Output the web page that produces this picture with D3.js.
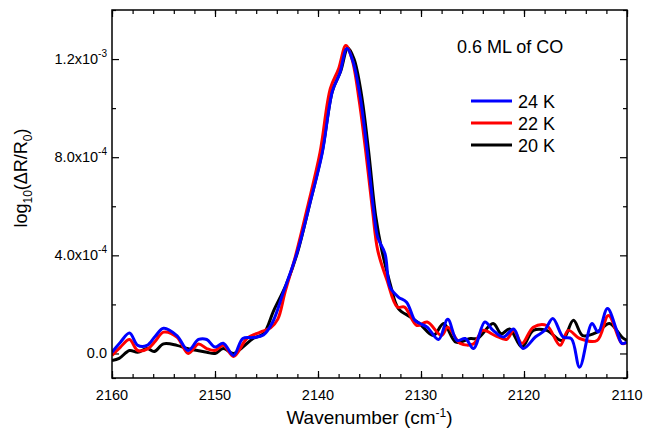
<!DOCTYPE html>
<html>
<head>
<meta charset="utf-8">
<script src="https://cdn.jsdelivr.net/npm/d3@7"></script>
<style>
  body { margin: 0; background: #fff; }
  svg text { font-family: "Liberation Sans", Arial, sans-serif; fill: #000; }
  .axis path { stroke: none; }
  .axis line { stroke: #000; stroke-width: 1.2; }
</style>
</head>
<body>
<script>
const width = 646;
const height = 435;
const margin = {top: 10, right: 19, bottom: 57, left: 112};

// values are in units of 1e-4
const unit = 1e-4;

const k24 = [
  [2160, 0.05], [2159.2, 0.45], [2158.3, 0.83], [2157.5, 0.33], [2156.6, 0.33], [2155.8, 0.7],
  [2155, 1.03], [2153.7, 0.73], [2152.6, 0.12], [2151.6, 0.57], [2150.8, 0.57], [2150, 0.26],
  [2149.2, 0.42], [2148.2, -0.08], [2147.3, 0.61], [2146.3, 0.65], [2145.3, 0.75], [2144.4, 1.28],
  [2143.4, 2.45], [2142, 4.15], [2140.8, 6.1], [2139.6, 8.15], [2138.6, 10.7], [2137.9, 11.4],
  [2137.2, 12.43], [2136.6, 11.9], [2135.9, 10.45], [2135.2, 8.15], [2134.6, 5.83], [2134.2, 4.73],
  [2133.5, 4.08], [2133, 2.7], [2132.2, 2.3], [2131.4, 2.09], [2130.6, 1.35], [2130.1, 1.22],
  [2129.4, 1.07], [2128.3, 0.57], [2127.4, 1.39], [2126.5, 0.53], [2125.7, 0.61], [2124.9, 0.2],
  [2123.8, 1.28], [2123, 0.94], [2122, 0.67], [2121, 1.0], [2120.1, 0.2], [2118.9, 0.67],
  [2118, 0.94], [2117.2, 1.43], [2116.2, 0.67], [2115.4, 0.6], [2114.6, -0.56], [2113.4, 1.22],
  [2112.8, 0.87], [2111.9, 1.83], [2111, 0.94], [2110.5, 0.41], [2110, 0.46]
];

const k22 = [
  [2160, -0.08], [2159.2, 0.25], [2158.3, 0.57], [2157.5, 0.12], [2156.5, 0.2], [2155.8, 0.5],
  [2155, 0.87], [2153.7, 0.67], [2152.6, 0.0], [2151.6, 0.39], [2150.8, 0.2], [2150, 0.12],
  [2149.2, 0.33], [2148.2, -0.12], [2146.9, 0.61], [2145.6, 0.87], [2144.6, 1.05], [2143.9, 1.4],
  [2143.2, 2.5], [2142.2, 3.95], [2141, 6.0], [2139.8, 8.2], [2138.8, 10.8], [2138, 11.6],
  [2137.3, 12.55], [2136.7, 12.0], [2136, 10.3], [2135.3, 8.0], [2134.7, 5.8], [2134.2, 4.2],
  [2133.3, 2.98], [2132.3, 1.89], [2131.6, 1.89], [2130.4, 1.14], [2129.4, 1.28], [2128, 0.73],
  [2127.4, 1.07], [2126.2, 0.41], [2124.9, 0.39], [2124, 0.94], [2122.8, 0.73], [2121.7, 0.57],
  [2121, 0.94], [2120.2, 0.41], [2119.1, 1.07], [2117.8, 1.14], [2116.5, 0.33], [2115.7, 0.94],
  [2114.6, 0.61], [2112.9, 0.53], [2111.8, 1.55], [2110.5, 0.41], [2110, 0.46]
];

const k20 = [
  [2160, -0.29], [2159.3, -0.2], [2158.3, 0.12], [2157.5, 0.05], [2156.6, 0.2], [2155.9, 0.08],
  [2155, 0.39], [2153.7, 0.33], [2152.7, 0.2], [2151.7, 0.12], [2150.8, 0.05], [2150, 0.0],
  [2149.2, 0.2], [2148.2, 0.0], [2147.3, 0.26], [2146.3, 0.61], [2145.3, 0.8], [2144.3, 1.75],
  [2143.1, 2.8], [2142, 4.1], [2140.8, 6.1], [2139.6, 8.2], [2138.6, 10.7], [2137.8, 11.5],
  [2137.1, 12.45], [2136.5, 12.0], [2135.8, 10.6], [2135.1, 8.3], [2134.4, 5.6], [2133.8, 4.2],
  [2133, 2.85], [2132.2, 1.83], [2131, 1.48], [2130.1, 1.2], [2128.8, 0.73], [2127.8, 1.22],
  [2126.6, 0.46], [2125.2, 0.61], [2124.5, 0.61], [2123, 1.22], [2122.2, 0.8], [2121.4, 1.0],
  [2120.2, 0.26], [2119.1, 0.94], [2117.8, 0.94], [2116.3, 0.53], [2115.2, 1.35], [2114.3, 0.73],
  [2112.9, 0.87], [2111.7, 1.22], [2110.5, 0.67], [2110, 0.53]
];

const seriesNames = ["20 K", "22 K", "24 K"];
const seriesColors = ["#000000", "#ff0000", "#0000ff"];
const seriesData = [k20, k22, k24];
const legendOrder = [2, 1, 0]; // 24 K on top

const xTicks = [2160, 2150, 2140, 2130, 2120, 2110];
const xMinorTicks = d3.range(2160, 2109, -2);
const yTicks = [0, 4e-4, 8e-4, 1.2e-3];
const yMinorTicks = [-1e-4, 2e-4, 6e-4, 1.0e-3, 1.4e-3];
const yTickLabels = [["0.0", null], ["4.0x10", "-4"], ["8.0x10", "-4"], ["1.2x10", "-3"]];

const svg = d3.select("body").append("svg")
    .attr("width", width)
    .attr("height", height);

const x = d3.scaleLinear().domain([2160, 2110]).range([margin.left, width - margin.right]);
const y = d3.scaleLinear().domain([-1e-4, 1.4e-3]).range([height - margin.bottom, margin.top]);

const plotW = width - margin.right - margin.left;
const plotH = height - margin.bottom - margin.top;

// inward ticks on all four sides
function ticks(axisFn, scale, vals, size, tx, ty) {
    svg.append("g")
        .attr("class", "axis")
        .attr("transform", `translate(${tx},${ty})`)
        .call(axisFn(scale).tickValues(vals).tickSize(-size).tickFormat(""));
}
ticks(d3.axisBottom, x, xTicks, 7, 0, height - margin.bottom);
ticks(d3.axisBottom, x, xMinorTicks, 4, 0, height - margin.bottom);
ticks(d3.axisTop, x, xTicks, 7, 0, margin.top);
ticks(d3.axisTop, x, xMinorTicks, 4, 0, margin.top);
ticks(d3.axisLeft, y, yTicks, 7, margin.left, 0);
ticks(d3.axisLeft, y, yMinorTicks, 4, margin.left, 0);
ticks(d3.axisRight, y, yTicks, 7, width - margin.right, 0);
ticks(d3.axisRight, y, yMinorTicks, 4, width - margin.right, 0);

// curves
svg.append("clipPath").attr("id", "clip")
    .append("rect").attr("x", margin.left).attr("y", margin.top)
    .attr("width", plotW).attr("height", plotH);

const line = d3.line()
    .x(d => x(d[0]))
    .y(d => y(d[1] * unit))
    .curve(d3.curveCatmullRom.alpha(0.5));

svg.append("g").attr("clip-path", "url(#clip)")
    .selectAll("path")
    .data(seriesData)
    .join("path")
    .attr("fill", "none")
    .attr("stroke", (d, i) => seriesColors[i])
    .attr("stroke-width", 3)
    .attr("stroke-linejoin", "round")
    .attr("d", line);

// frame
svg.append("rect")
    .attr("x", margin.left).attr("y", margin.top)
    .attr("width", plotW).attr("height", plotH)
    .attr("fill", "none").attr("stroke", "#000").attr("stroke-width", 1.5);

// x tick labels
svg.append("g").selectAll("text")
    .data(xTicks)
    .join("text")
    .attr("x", d => x(d))
    .attr("y", height - margin.bottom + 22)
    .attr("text-anchor", "middle")
    .attr("font-size", 14.5)
    .text(d => d);

// y tick labels
const yl = svg.append("g").selectAll("text")
    .data(yTicks)
    .join("text")
    .attr("x", margin.left - 5)
    .attr("y", d => y(d) + 5)
    .attr("text-anchor", "end")
    .attr("font-size", 14.5);
yl.each(function(d, i) {
    const t = d3.select(this);
    const lab = yTickLabels[i];
    t.append("tspan").text(lab[0]);
    if (lab[1]) {
        t.append("tspan").attr("dy", -7).attr("font-size", 10).text(lab[1]);
    }
});

// axis titles
const xt = svg.append("text")
    .attr("x", (margin.left + width - margin.right) / 2)
    .attr("y", height - 11)
    .attr("text-anchor", "middle")
    .attr("font-size", 19);
xt.append("tspan").text("Wavenumber (cm");
xt.append("tspan").attr("dy", -7).attr("font-size", 12).text("-1");
xt.append("tspan").attr("dy", 7).text(")");

const yt = svg.append("text")
    .attr("transform", `translate(27,178) rotate(-90)`)
    .attr("text-anchor", "middle")
    .attr("font-size", 18);
yt.append("tspan").text("log");
yt.append("tspan").attr("dy", 5).attr("font-size", 12).text("10");
yt.append("tspan").attr("dy", -5).text("(\u0394R/R");
yt.append("tspan").attr("dy", 5).attr("font-size", 12).text("0");
yt.append("tspan").attr("dy", -5).text(")");

// annotation and legend
svg.append("text")
    .attr("x", 457).attr("y", 53)
    .attr("font-size", 18)
    .text("0.6 ML of CO");

const leg = svg.append("g").selectAll("g")
    .data(legendOrder)
    .join("g")
    .attr("transform", (d, i) => `translate(471,${101 + i * 22})`);
leg.append("line")
    .attr("x1", 0).attr("x2", 41)
    .attr("stroke", d => seriesColors[d])
    .attr("stroke-width", 3);
leg.append("text")
    .attr("x", 47).attr("y", 6.5)
    .attr("font-size", 18)
    .text(d => seriesNames[d]);
</script>
</body>
</html>
